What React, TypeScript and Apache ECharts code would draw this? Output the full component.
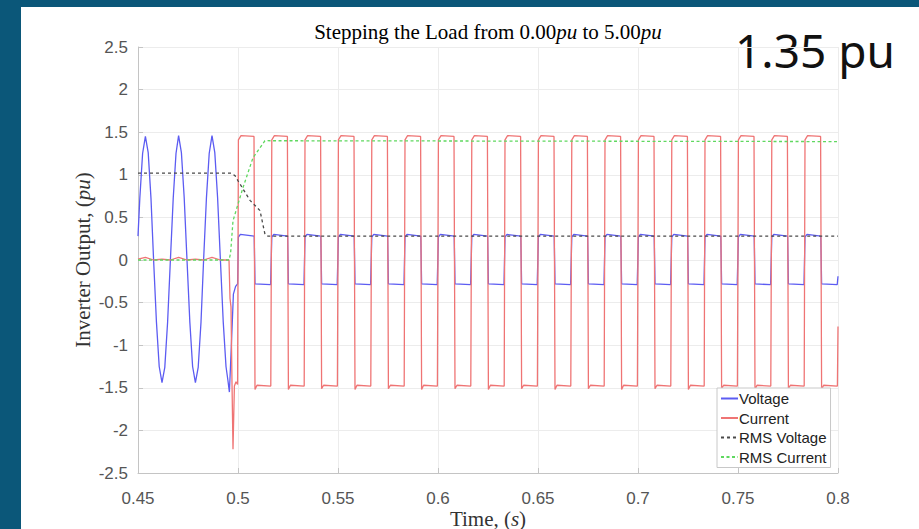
import React, { useEffect, useRef } from "react";
import * as echarts from "echarts";

const seriesNames = ["Voltage", "Current", "RMS Voltage", "RMS Current"];
const xTicks = { min: 0.45, max: 0.8, interval: 0.05 };
const yTicks = { min: -2.5, max: 2.5, interval: 0.5 };

const voltage: [number, number][] = [
  [0.4500, 0.28], [0.4509, 0.72], [0.4523, 1.25], [0.4537, 1.45], [0.4551, 1.26], [0.4565, 0.72],
  [0.4578, 0.00], [0.4592, -0.72], [0.4606, -1.25], [0.4620, -1.44], [0.4634, -1.26], [0.4648, -0.73],
  [0.4662, 0.00], [0.4676, 0.72], [0.4690, 1.25], [0.4703, 1.46], [0.4717, 1.26], [0.4731, 0.73],
  [0.4745, 0.00], [0.4759, -0.72], [0.4773, -1.25], [0.4787, -1.44], [0.4801, -1.26], [0.4815, -0.73],
  [0.4828, 0.00], [0.4842, 0.72], [0.4856, 1.25], [0.4870, 1.46], [0.4884, 1.26], [0.4898, 0.73],
  [0.4912, 0.00], [0.4926, -0.72], [0.4940, -1.25], [0.4950, -1.42], [0.4957, -1.55], [0.4966, -1.05],
  [0.4977, -0.40], [0.4988, -0.31], [0.4998, -0.28],
  [0.5002, 0.27], [0.5012, 0.30], [0.5081, 0.28], [0.5085, -0.28], [0.5163, -0.29],
  [0.5169, 0.27], [0.5179, 0.30], [0.5248, 0.28], [0.5252, -0.28], [0.5330, -0.29],
  [0.5335, 0.27], [0.5345, 0.30], [0.5414, 0.28], [0.5418, -0.28], [0.5496, -0.29],
  [0.5502, 0.27], [0.5512, 0.30], [0.5581, 0.28], [0.5585, -0.28], [0.5663, -0.29],
  [0.5669, 0.27], [0.5679, 0.30], [0.5748, 0.28], [0.5752, -0.28], [0.5830, -0.29],
  [0.5835, 0.27], [0.5845, 0.30], [0.5914, 0.28], [0.5918, -0.28], [0.5996, -0.29],
  [0.6002, 0.27], [0.6012, 0.30], [0.6081, 0.28], [0.6085, -0.28], [0.6163, -0.29],
  [0.6169, 0.27], [0.6179, 0.30], [0.6248, 0.28], [0.6252, -0.28], [0.6330, -0.29],
  [0.6335, 0.27], [0.6345, 0.30], [0.6414, 0.28], [0.6418, -0.28], [0.6496, -0.29],
  [0.6502, 0.27], [0.6512, 0.30], [0.6581, 0.28], [0.6585, -0.28], [0.6663, -0.29],
  [0.6669, 0.27], [0.6679, 0.30], [0.6748, 0.28], [0.6752, -0.28], [0.6830, -0.29],
  [0.6835, 0.27], [0.6845, 0.30], [0.6914, 0.28], [0.6918, -0.28], [0.6996, -0.29],
  [0.7002, 0.27], [0.7012, 0.30], [0.7081, 0.28], [0.7085, -0.28], [0.7163, -0.29],
  [0.7169, 0.27], [0.7179, 0.30], [0.7248, 0.28], [0.7252, -0.28], [0.7330, -0.29],
  [0.7335, 0.27], [0.7345, 0.30], [0.7414, 0.28], [0.7418, -0.28], [0.7496, -0.29],
  [0.7502, 0.27], [0.7512, 0.30], [0.7581, 0.28], [0.7585, -0.28], [0.7663, -0.29],
  [0.7669, 0.27], [0.7679, 0.30], [0.7748, 0.28], [0.7752, -0.28], [0.7830, -0.29],
  [0.7835, 0.27], [0.7845, 0.30], [0.7914, 0.28], [0.7918, -0.28], [0.7996, -0.29],
  [0.8000, -0.19],
];

const current: [number, number][] = [
  [0.4500, 0.01], [0.4537, 0.03], [0.4578, 0.00], [0.4620, 0.01], [0.4662, 0.00], [0.4703, 0.03],
  [0.4745, 0.00], [0.4787, 0.01], [0.4828, 0.00], [0.4870, 0.03], [0.4912, 0.00], [0.4955, 0.00],
  [0.4960, -0.45], [0.4965, -0.55], [0.4970, -1.45], [0.4975, -2.22], [0.4982, -1.48], [0.4990, -1.43],
  [0.4998, -1.46],
  [0.5002, 1.41], [0.5015, 1.46], [0.5080, 1.45], [0.5085, -1.52], [0.5095, -1.47], [0.5164, -1.48],
  [0.5169, 1.41], [0.5182, 1.46], [0.5247, 1.45], [0.5252, -1.52], [0.5262, -1.47], [0.5331, -1.48],
  [0.5335, 1.41], [0.5348, 1.46], [0.5413, 1.45], [0.5418, -1.51], [0.5428, -1.47], [0.5497, -1.48],
  [0.5502, 1.41], [0.5515, 1.46], [0.5580, 1.45], [0.5585, -1.52], [0.5595, -1.47], [0.5664, -1.48],
  [0.5669, 1.41], [0.5682, 1.46], [0.5747, 1.45], [0.5752, -1.51], [0.5762, -1.47], [0.5831, -1.48],
  [0.5835, 1.41], [0.5848, 1.46], [0.5913, 1.45], [0.5918, -1.52], [0.5928, -1.47], [0.5997, -1.48],
  [0.6002, 1.41], [0.6015, 1.46], [0.6080, 1.45], [0.6085, -1.51], [0.6095, -1.47], [0.6164, -1.48],
  [0.6169, 1.41], [0.6182, 1.46], [0.6247, 1.45], [0.6252, -1.52], [0.6262, -1.47], [0.6331, -1.48],
  [0.6335, 1.41], [0.6348, 1.46], [0.6413, 1.45], [0.6418, -1.51], [0.6428, -1.47], [0.6497, -1.48],
  [0.6502, 1.41], [0.6515, 1.46], [0.6580, 1.45], [0.6585, -1.52], [0.6595, -1.47], [0.6664, -1.48],
  [0.6669, 1.41], [0.6682, 1.46], [0.6747, 1.45], [0.6752, -1.51], [0.6762, -1.47], [0.6831, -1.48],
  [0.6835, 1.41], [0.6848, 1.46], [0.6913, 1.45], [0.6918, -1.52], [0.6928, -1.47], [0.6997, -1.48],
  [0.7002, 1.41], [0.7015, 1.46], [0.7080, 1.45], [0.7085, -1.51], [0.7095, -1.47], [0.7164, -1.48],
  [0.7169, 1.41], [0.7182, 1.46], [0.7247, 1.45], [0.7252, -1.52], [0.7262, -1.47], [0.7331, -1.48],
  [0.7335, 1.41], [0.7348, 1.46], [0.7413, 1.45], [0.7418, -1.51], [0.7428, -1.47], [0.7497, -1.48],
  [0.7502, 1.41], [0.7515, 1.46], [0.7580, 1.45], [0.7585, -1.52], [0.7595, -1.47], [0.7664, -1.48],
  [0.7669, 1.41], [0.7682, 1.46], [0.7747, 1.45], [0.7752, -1.51], [0.7762, -1.47], [0.7831, -1.48],
  [0.7835, 1.41], [0.7848, 1.46], [0.7913, 1.45], [0.7918, -1.52], [0.7928, -1.47], [0.7997, -1.48],
  [0.8000, -0.78],
];

const rmsVoltage: [number, number][] = [
  [0.4500, 1.02], [0.4965, 1.02], [0.4985, 0.99], [0.5000, 0.93], [0.5060, 0.70],
  [0.5110, 0.58], [0.5135, 0.30], [0.5150, 0.28], [0.8000, 0.28],
];

const rmsCurrent: [number, number][] = [
  [0.4500, 0.00], [0.4955, 0.00], [0.4963, 0.08], [0.4975, 0.46], [0.5025, 0.85],
  [0.5075, 1.20], [0.5135, 1.40], [0.8000, 1.39],
];

const seriesData = [voltage, current, rmsVoltage, rmsCurrent];
const seriesColors = ["#5c5cf2", "#ef7474", "#4a4a4a", "#5fd85f"];
const seriesDash: any[] = ["solid", "solid", [3, 3], [3, 2.5]];

const titleText = "{a|Stepping the Load from 0.00}{b|pu}{a| to 5.00}{b|pu}";
const badgeText = "1.35 pu";

export default function App() {
  const ref = useRef<HTMLDivElement>(null);
  useEffect(() => {
    if (!ref.current) return;
    const chart = echarts.init(ref.current, undefined, { renderer: "svg" });
    const serif = "'Liberation Serif', 'DejaVu Serif', serif";
    const sans = "'Liberation Sans', Arial, sans-serif";
    chart.setOption({
      animation: false,
      backgroundColor: "#ffffff",
      grid: { left: 117, right: 81, top: 40, bottom: 56, containLabel: false, outerBoundsMode: "none" },
      xAxis: {
        type: "value",
        min: xTicks.min,
        max: xTicks.max,
        interval: xTicks.interval,
        name: "Time, ({i|s})",
        nameLocation: "middle",
        nameGap: 35,
        nameMoveOverlap: false,
        nameTextStyle: {
          fontFamily: serif, fontSize: 21, color: "#333",
          rich: { i: { fontFamily: serif, fontSize: 21, fontStyle: "italic", color: "#333" } },
        },
        axisLine: { show: true, onZero: false, lineStyle: { color: "#c4c4c4", width: 1 } },
        axisTick: { show: true, length: 5, inside: true, lineStyle: { color: "#c4c4c4" } },
        axisLabel: {
          fontFamily: sans, fontSize: 17, color: "#555", margin: 17,
          formatter: (v: number) => String(parseFloat(v.toFixed(2))),
        },
        splitLine: { show: true, lineStyle: { color: "#ececec", width: 1 } },
      },
      yAxis: {
        type: "value",
        min: yTicks.min,
        max: yTicks.max,
        interval: yTicks.interval,
        name: "Inverter Output, ({i|pu})",
        nameLocation: "middle",
        nameGap: 45,
        nameMoveOverlap: false,
        nameRotate: 90,
        nameTextStyle: {
          fontFamily: serif, fontSize: 21, color: "#333",
          rich: { i: { fontFamily: serif, fontSize: 21, fontStyle: "italic", color: "#333" } },
        },
        axisLine: { show: true, onZero: false, lineStyle: { color: "#c4c4c4", width: 1 } },
        axisTick: { show: true, length: 5, inside: true, lineStyle: { color: "#c4c4c4" } },
        axisLabel: {
          fontFamily: sans, fontSize: 17, color: "#555", margin: 10,
          formatter: (v: number) => String(parseFloat(v.toFixed(2))),
        },
        splitLine: { show: true, lineStyle: { color: "#ececec", width: 1 } },
      },
      legend: {
        orient: "vertical",
        left: 696,
        top: 381,
        padding: [3, 4, 3, 3],
        itemWidth: 17,
        itemHeight: 10,
        itemGap: 4.5,
        borderColor: "#c8c8c8",
        borderWidth: 1,
        backgroundColor: "#ffffff",
        itemStyle: { opacity: 0 },
        textStyle: { fontFamily: sans, fontSize: 15, color: "#222", padding: [0, 0, 0, -4] },
        data: seriesNames,
      },
      series: seriesNames.map((name, i) => ({
        name,
        type: "line",
        data: seriesData[i],
        symbol: "none",
        showSymbol: false,
        lineStyle: { color: seriesColors[i], width: 1.3, type: seriesDash[i] },
        itemStyle: { color: seriesColors[i] },
        z: 2 + i,
      })),
      graphic: [
        {
          type: "text",
          x: 467,
          y: 25,
          style: {
            text: titleText,
            textAlign: "center",
            textVerticalAlign: "middle",
            rich: {
              a: { fontFamily: serif, fontSize: 21, color: "#333" },
              b: { fontFamily: serif, fontSize: 21, fontStyle: "italic", color: "#333" },
            },
          },
        },
        {
          type: "text",
          x: 714,
          y: 43,
          style: {
            text: badgeText,
            fontFamily: "'Noto Sans', 'Open Sans', sans-serif",
            fontSize: 46,
            fill: "#111",
            textAlign: "left",
            textVerticalAlign: "middle",
          },
        },
      ],
    });
    return () => chart.dispose();
  }, []);
  return (
    <div style={{ position: "fixed", left: 0, top: 0, width: 919, height: 529, background: "#0b5779" }}>
      <div ref={ref} style={{ position: "absolute", left: 21, top: 7, width: 898, height: 522 }} />
    </div>
  );
}
